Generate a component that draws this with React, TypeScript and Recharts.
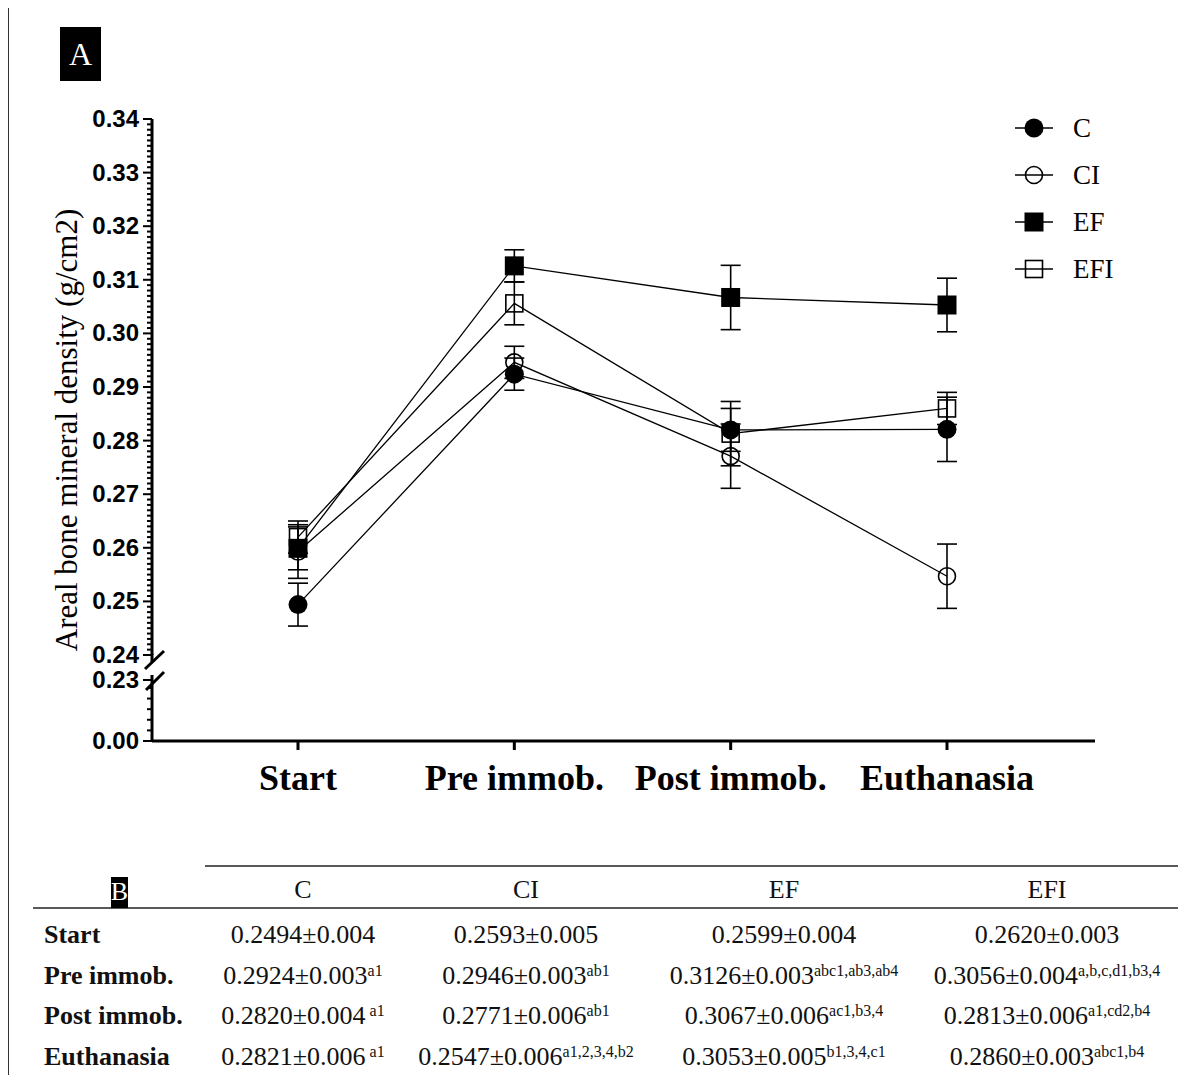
import React from 'react';
import { LineChart, Line, XAxis, YAxis, ErrorBar, Legend } from 'recharts';

const timePoints = ['Start', 'Pre immob.', 'Post immob.', 'Euthanasia'];
const groups = ['C', 'CI', 'EF', 'EFI'];

const cMean = [0.2494, 0.2924, 0.282, 0.2821];
const cSd = [0.004, 0.003, 0.004, 0.006];
const ciMean = [0.2593, 0.2946, 0.2771, 0.2547];
const ciSd = [0.005, 0.003, 0.006, 0.006];
const efMean = [0.2599, 0.3126, 0.3067, 0.3053];
const efSd = [0.004, 0.003, 0.006, 0.005];
const efiMean = [0.262, 0.3056, 0.2813, 0.286];
const efiSd = [0.003, 0.004, 0.006, 0.003];

// significance superscripts
const cSup = ['', 'a1', ' a1', ' a1'];
const ciSup = ['', 'ab1', 'ab1', 'a1,2,3,4,b2'];
const efSup = ['', 'abc1,ab3,ab4', 'ac1,b3,4', 'b1,3,4,c1'];
const efiSup = ['', 'a,b,c,d1,b3,4', 'a1,cd2,b4', 'abc1,b4'];

const upperMajorTicks = [0.24, 0.25, 0.26, 0.27, 0.28, 0.29, 0.3, 0.31, 0.32, 0.33, 0.34];
const lowerMajorTicks = [0, 0.23];

const upperTicks = Array.from({ length: 101 }, (_, i) => +(0.24 + i * 0.001).toFixed(3));
const lowerTicks = [0, 0.04, 0.08, 0.12, 0.16, 0.2, 0.23];

const chartData = timePoints.map((t, i) => ({
  time: t,
  C: cMean[i], CErr: cSd[i],
  CI: ciMean[i], CIErr: ciSd[i],
  EF: efMean[i], EFErr: efSd[i],
  EFI: efiMean[i], EFIErr: efiSd[i],
}));

const tableRows = [
  { group: 'C', mean: cMean, sd: cSd, sup: cSup, cx: 303 },
  { group: 'CI', mean: ciMean, sd: ciSd, sup: ciSup, cx: 526 },
  { group: 'EF', mean: efMean, sd: efSd, sup: efSup, cx: 784 },
  { group: 'EFI', mean: efiMean, sd: efiSd, sup: efiSup, cx: 1047 },
];

const SERIF = '"Liberation Serif", "Times New Roman", serif';
const SANS = '"Liberation Sans", Arial, sans-serif';

const markerShape = (name: string, cx: number, cy: number, key?: string) => {
  if (name === 'C') return <circle key={key} cx={cx} cy={cy} r={9.5} fill="#000" />;
  if (name === 'CI') return <circle key={key} cx={cx} cy={cy} r={8.5} fill="none" stroke="#000" strokeWidth={1.6} />;
  if (name === 'EF') return <rect key={key} x={cx - 9.5} y={cy - 9.5} width={19} height={19} fill="#000" />;
  return <rect key={key} x={cx - 8.5} y={cy - 8.5} width={17} height={17} fill="none" stroke="#000" strokeWidth={1.6} />;
};

const makeDot = (name: string) => (props: any) =>
  markerShape(name, props.cx, props.cy, `${name}-dot-${props.index}`);

const makeYTick = (majors: number[]) => (props: any) => {
  const { x, y, payload } = props;
  const v = payload.value;
  const isMajor = majors.some((m) => Math.abs(m - v) < 1e-6);
  return (
    <g>
      <line x1={x - (isMajor ? 9 : 5)} x2={x} y1={y} y2={y} stroke="#000" strokeWidth={2} />
      {isMajor && (
        <text x={x - 13} y={y} dy={8} textAnchor="end" fontFamily={SANS} fontWeight="bold" fontSize={24} fill="#000">
          {v.toFixed(2)}
        </text>
      )}
    </g>
  );
};

const XTick = (props: any) => {
  const { x, y, payload } = props;
  return (
    <g>
      <line x1={x} x2={x} y1={y} y2={y + 9} stroke="#000" strokeWidth={3} />
      <text x={x} y={y + 49} textAnchor="middle" fontFamily={SERIF} fontWeight="bold" fontSize={36} fill="#000">
        {payload.value}
      </text>
    </g>
  );
};

const LegendContent = () => (
  <svg width={150} height={190}>
    {groups.map((g, i) => {
      const cy = 20 + i * 47;
      return (
        <g key={g}>
          <line x1={10} x2={48} y1={cy} y2={cy} stroke="#000" strokeWidth={1.5} />
          {markerShape(g, 29, cy)}
          <text x={68} y={cy + 9} fontFamily={SERIF} fontSize={27} fill="#000">{g}</text>
        </g>
      );
    })}
  </svg>
);

const series = [
  { key: 'C', err: 'CErr' },
  { key: 'CI', err: 'CIErr' },
  { key: 'EFI', err: 'EFIErr' },
  { key: 'EF', err: 'EFErr' },
];

export default function App() {
  return (
    <div style={{ position: 'relative', margin: -8, width: 1194, height: 1083, background: '#fff', overflow: 'hidden' }}>
      {/* upper part of broken axis: 0.24 - 0.34 */}
      <LineChart
        width={1194}
        height={700}
        data={chartData}
        margin={{ top: 119, right: 99, bottom: 45, left: 52 }}
        style={{ position: 'absolute', left: 0, top: 0 }}
      >
        <XAxis dataKey="time" hide padding={{ left: 146, right: 148 }} />
        <YAxis
          type="number"
          domain={[0.24, 0.34]}
          ticks={upperTicks}
          interval={0}
          width={100}
          allowDataOverflow
          tickSize={0}
          tickMargin={0}
          tickLine={false}
          axisLine={{ stroke: '#000', strokeWidth: 3 }}
          tick={makeYTick(upperMajorTicks)}
        />
        <Legend
          layout="vertical"
          verticalAlign="middle"
          align="center"
          content={LegendContent}
          wrapperStyle={{ left: 1005, top: 108, width: 150 }}
        />
        {series.map((s) => (
          <Line
            key={s.key}
            dataKey={s.key}
            type="linear"
            stroke="#000"
            strokeWidth={1.3}
            dot={makeDot(s.key)}
            activeDot={false}
            isAnimationActive={false}
          >
            <ErrorBar dataKey={s.err} width={10} stroke="#000" strokeWidth={1.6} direction="y" />
          </Line>
        ))}
      </LineChart>

      {/* lower part of broken axis: 0.00 - 0.23 */}
      <LineChart
        width={1194}
        height={180}
        data={chartData}
        margin={{ top: 40, right: 99, bottom: 0, left: 52 }}
        style={{ position: 'absolute', left: 0, top: 640 }}
      >
        <XAxis
          dataKey="time"
          padding={{ left: 146, right: 148 }}
          height={79}
          interval={0}
          tickSize={0}
          tickMargin={0}
          tickLine={false}
          axisLine={{ stroke: '#000', strokeWidth: 3 }}
          tick={<XTick />}
        />
        <YAxis
          type="number"
          domain={[0, 0.23]}
          ticks={lowerTicks}
          interval={0}
          width={100}
          allowDataOverflow
          tickSize={0}
          tickMargin={0}
          tickLine={false}
          axisLine={{ stroke: '#000', strokeWidth: 3 }}
          tick={makeYTick(lowerMajorTicks)}
        />
      </LineChart>

      {/* frame, panel label, axis break, y title */}
      <svg width={1194} height={1083} style={{ position: 'absolute', left: 0, top: 0, pointerEvents: 'none' }}>
        <line x1={8} x2={1194} y1={5} y2={5} stroke="#333" strokeWidth={2} />
        <line x1={8} x2={8} y1={5} y2={1083} stroke="#333" strokeWidth={2} />
        <rect x={60} y={27} width={41} height={54} fill="#000" />
        <text x={80.5} y={65} textAnchor="middle" fontFamily={SERIF} fontSize={32} fill="#fff">A</text>
        <line x1={152} x2={152} y1={654} y2={662} stroke="#000" strokeWidth={3} />
        <line x1={152} x2={152} y1={675} y2={681} stroke="#000" strokeWidth={3} />
        <line x1={145} x2={164} y1={669} y2={651} stroke="#000" strokeWidth={3} />
        <line x1={146} x2={164} y1={690} y2={672} stroke="#000" strokeWidth={3} />
        <text
          transform="translate(77 430) rotate(-90)"
          textAnchor="middle"
          fontFamily={SERIF}
          fontSize={31}
          fill="#000"
        >
          Areal bone mineral density (g/cm2)
        </text>
        {/* table rules */}
        <line x1={205} x2={1178} y1={866} y2={866} stroke="#222" strokeWidth={1.5} />
        <line x1={33} x2={1178} y1={908} y2={908} stroke="#222" strokeWidth={1.5} />
        <line x1={33} x2={1178} y1={1076} y2={1076} stroke="#222" strokeWidth={1.5} />
        <line x1={33} x2={1178} y1={1079} y2={1079} stroke="#222" strokeWidth={1.5} />
        <rect x={111} y={877} width={17} height={31} fill="#000" />
        <text x={119.5} y={900} textAnchor="middle" fontFamily={SERIF} fontSize={26} fill="#fff">B</text>
      </svg>

      {/* table B */}
      <div style={{ position: 'absolute', left: 0, top: 0, fontFamily: SERIF, fontSize: 26, color: '#111' }}>
        {tableRows.map((col) => (
          <div key={col.group} style={{ position: 'absolute', left: col.cx, top: 874, transform: 'translateX(-50%)', whiteSpace: 'nowrap', lineHeight: '32px' }}>
            {col.group}
          </div>
        ))}
        {timePoints.map((t, r) => (
          <React.Fragment key={t}>
            <div style={{ position: 'absolute', left: 44, top: 919 + r * 40.5, fontWeight: 'bold', whiteSpace: 'nowrap', lineHeight: '32px' }}>
              {t}
            </div>
            {tableRows.map((col) => (
              <div
                key={col.group}
                style={{ position: 'absolute', left: col.cx, top: 919 + r * 40.5, transform: 'translateX(-50%)', whiteSpace: 'nowrap', lineHeight: '32px' }}
              >
                {col.mean[r].toFixed(4)}±{col.sd[r].toFixed(3)}
                {col.sup[r] && (
                  <span style={{ fontSize: 16, verticalAlign: 'top', lineHeight: '22px', whiteSpace: 'pre' }}>{col.sup[r]}</span>
                )}
              </div>
            ))}
          </React.Fragment>
        ))}
      </div>
    </div>
  );
}
